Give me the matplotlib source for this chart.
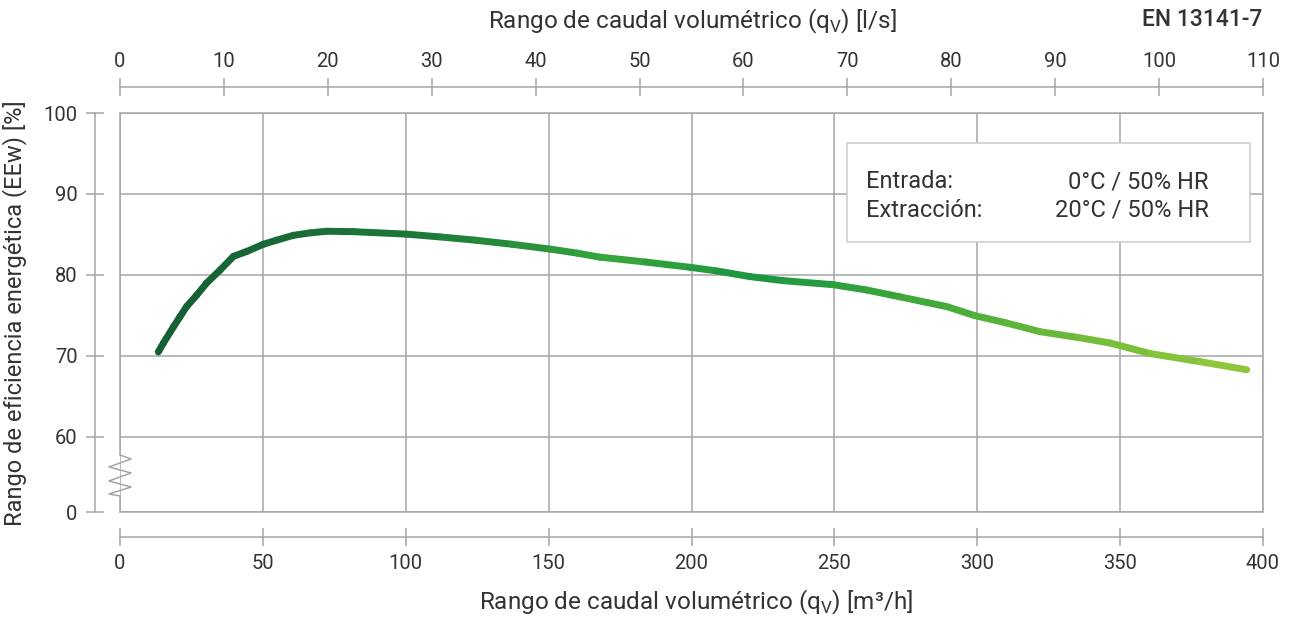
import numpy as np
import matplotlib.pyplot as plt
from matplotlib.collections import LineCollection
from matplotlib.colors import LinearSegmentedColormap
from matplotlib.patches import Rectangle

plt.rcParams['font.family'] = ['Roboto', 'DejaVu Sans']

# caudal [m3/h] and eficiencia [%]
caudal = [13.4, 15.2, 18.7, 21.0, 23.3, 26.8, 30.3, 35.0, 39.7, 44.3, 50.2, 54.8, 60.7,
          66.5, 72.3, 81.7, 100.0, 112.0, 124.3, 137.0, 150.5, 160.0,
          168.0, 184.0, 199.5, 208.8, 220.5, 232.2, 249.7, 261.3, 273.0, 289.3, 299.0,
          310.0, 322.0, 335.0, 346.5, 360.5, 378.0, 394.3]
eficiencia = [70.5, 71.6, 73.6, 74.85, 76.1, 77.5, 79.0, 80.6, 82.3, 82.9, 83.8, 84.3, 84.9,
              85.2, 85.4, 85.35, 85.05, 84.7, 84.3, 83.8, 83.2, 82.7,
              82.2, 81.6, 80.95, 80.5, 79.8, 79.3, 78.8, 78.15, 77.3, 76.1, 75.0,
              74.1, 73.0, 72.3, 71.6, 70.3, 69.3, 68.3]

x_ticks_m3h = [0, 50, 100, 150, 200, 250, 300, 350, 400]
x_ticks_ls = [0, 10, 20, 30, 40, 50, 60, 70, 80, 90, 100, 110]
y_ticks = [60, 70, 80, 90, 100]
y_break = 50.74          # where the "0" of the broken axis sits
y_labels = ['0', '60', '70', '80', '90', '100']

gray = '#a6a6a6'
txt = '#333333'
W, H = 1294, 618

fig = plt.figure(figsize=(W / 100, H / 100), dpi=100)
ax = fig.add_axes([120 / W, (H - 512) / H, (1263 - 120) / W, (512 - 113) / H])
ax.set_xlim(0, 400)
ax.set_ylim(y_break, 100)

ax.set_xticks(x_ticks_m3h)
ax.set_yticks([y_break] + y_ticks)
ax.set_yticklabels(y_labels)
ax.grid(True, color=gray, lw=1.1)
ax.set_axisbelow(True)

for s in ['left', 'bottom', 'top', 'right']:
    ax.spines[s].set_color(gray)
    ax.spines[s].set_linewidth(1.1)
ax.spines['left'].set_position(('outward', 18))
ax.spines['bottom'].set_position(('outward', 18))
ax.tick_params(axis='both', direction='inout', length=13, width=1.1, color=gray,
               labelsize=14.5, labelcolor=txt, pad=6)

# frame: bottom edge and left edge with the break zigzag
ax.axhline(y_break, color=gray, lw=1.1, clip_on=False, zorder=1)
zx = [0, 0, 3.9, -3.9, 3.9, -3.9, 3.9, -3.9, 0, 0]
zy = [100, 57.78, 57.28, 56.30, 55.56, 54.57, 53.83, 52.96, 52.72, y_break]
ax.plot(zx, zy, color=gray, lw=1.1, clip_on=False, zorder=1)

# top axis in l/s
ax2 = ax.twiny()
ax2.set_xlim(0, 110)
ax2.set_xticks(x_ticks_ls)
for s in ['left', 'bottom', 'right']:
    ax2.spines[s].set_visible(False)
ax2.spines['top'].set_color(gray)
ax2.spines['top'].set_linewidth(1.1)
ax2.spines['top'].set_position(('outward', 18.7))
ax2.tick_params(axis='x', direction='inout', length=12.5, width=1.1, color=gray,
                labelsize=14.5, labelcolor=txt, pad=5.5)

# gradient curve
cmap = LinearSegmentedColormap.from_list('verde', [
    (0.0, '#145e34'), (0.25, '#1d7a3a'), (0.42, '#38a63b'), (0.55, '#1b9340'),
    (0.7, '#3fa93a'), (0.85, '#70bb39'), (1.0, '#93c83e')])
pts = np.column_stack([caudal, eficiencia])
segs = np.stack([pts[:-1], pts[1:]], axis=1)
mid = (np.array(caudal[:-1]) + np.array(caudal[1:])) / 2
lc = LineCollection(segs, colors=cmap((mid - caudal[0]) / (caudal[-1] - caudal[0])),
                    linewidths=5, capstyle='round', joinstyle='round', zorder=3)
ax.add_collection(lc)

# conditions box
fig.patches.append(Rectangle((847 / W, 1 - 242 / H), 403 / W, 99 / H, transform=fig.transFigure,
                             facecolor='white', edgecolor='#cccccc', lw=1.1, zorder=4))
fs_box = 17
fig.text(866 / W, 1 - 182 / H, 'Entrada:', fontsize=fs_box, color=txt, va='center', zorder=5)
fig.text(866 / W, 1 - 210 / H, 'Extracción:', fontsize=fs_box, color=txt, va='center', zorder=5)
fig.text(1209 / W, 1 - 182 / H, '0°C / 50% HR', fontsize=fs_box, color=txt, va='center', ha='right', zorder=5)
fig.text(1209 / W, 1 - 210 / H, '20°C / 50% HR', fontsize=fs_box, color=txt, va='center', ha='right', zorder=5)

# titles
fs_t = 17.5
fig.text(692 / W, 1 - 21 / H, r'Rango de caudal volumétrico (q$_\mathregular{V}$) [l/s]',
         fontsize=fs_t, color=txt, ha='center', va='center')
fig.text(696 / W, 1 - 602 / H, r'Rango de caudal volumétrico (q$_\mathregular{V}$) [m³/h]',
         fontsize=fs_t, color=txt, ha='center', va='center')
fig.text(15 / W, 1 - 313 / H, 'Rango de eficiencia energética (EEw) [%]',
         fontsize=17, color=txt, ha='center', va='center', rotation=90)
fig.text(1262 / W, 1 - 20 / H, 'EN 13141-7', fontsize=16.5, color=txt, ha='right', va='center',
         fontweight='medium')

fig.savefig('out.png', dpi=100)
